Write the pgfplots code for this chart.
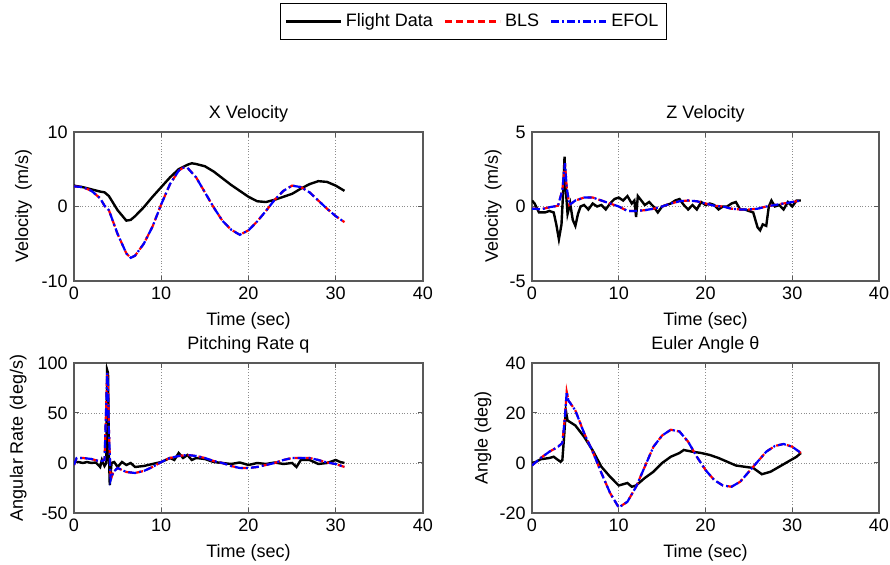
\documentclass[border=0pt]{standalone}
\usepackage{pgfplots}
\pgfplotsset{compat=1.18}
\usepackage{fontspec}
\setmainfont{Liberation Sans}
\begin{document}
\fontsize{9}{10.8}\selectfont
\begin{tikzpicture}
\pgfplotsset{
  myax/.style={scale only axis, anchor=south west,
    xmin=0, xmax=40, xtick={0,10,20,30,40},
    grid=major, major grid style={densely dotted, black!45, line width=0.4pt},
    axis line style={black!65, line width=0.6pt},
    tick style={black!65, line width=0.5pt}, tick align=inside, major tick length=2.5pt,
    xlabel={Time (sec)},
    xlabel style={at={(axis description cs:0.5,0)}, anchor=base, yshift=-22.5pt},
    title style={at={(axis description cs:0.5,1)}, anchor=base, yshift=0.5pt},
    /pgf/number format/assume math mode=true,
    scaled y ticks=false,
    legend image code/.code={\draw[##1] (0pt,0pt) -- (27.5pt,0pt);},
  },
  fd/.style={black, line width=1.2pt},
  bls/.style={red, line width=1.1pt, dash pattern=on 3.5pt off 2pt},
  efol/.style={blue, line width=1.1pt, dash pattern=on 4pt off 1.5pt on 1pt off 1.5pt},
}
% X velocity
\begin{axis}[myax, at={(37pt,142pt)}, width=174.5pt, height=74.5pt,
  ymin=-10, ymax=10, ytick={-10,0,10},
  title={X Velocity}, ylabel={Velocity\ \ (m/s)},
  ylabel style={at={(axis description cs:-0.145,0.5)}, anchor=center},
  legend columns=3,
  legend style={draw=black, line width=0.5pt, at={(axis description cs:1.1447,1.7416)}, anchor=center,
    /tikz/every even column/.append style={column sep=3.5pt}, inner xsep=2pt, inner ysep=3pt},
]
\addplot[fd] coordinates {(0,2.8)(1,2.6)(2,2.3)(3,2.0)(3.5,1.9)(4,1.4)(5,-0.5)(6,-1.9)(6.5,-1.8)(7,-1.3)(8,-0.1)(9,1.3)(10,2.6)(11,3.9)(12,5.0)(13,5.6)(13.5,5.8)(14,5.7)(15,5.4)(16,4.7)(17,3.8)(18,2.9)(19,2.1)(20,1.3)(21,0.7)(22,0.6)(23,0.9)(24,1.3)(25,1.7)(26,2.4)(27,3.0)(28,3.4)(29,3.3)(30,2.8)(31,2.1)};
\addlegendentry{Flight Data}
\addplot[bls] coordinates {(0,2.7)(1,2.6)(2,2.1)(3,1.1)(3.5,0.1)(4,-0.5)(5,-3.7)(6,-6.3)(6.5,-6.9)(7,-6.6)(8,-5.0)(9,-2.7)(10,0.3)(11,3.0)(12,4.8)(12.5,5.2)(13,5.2)(14,3.9)(15,1.9)(16,-0.1)(17,-1.9)(18,-3.1)(19,-3.8)(20,-3.2)(21,-2.0)(22,-0.6)(23,0.9)(24,2.1)(25,2.8)(26,2.6)(27,1.9)(28,0.8)(29,-0.3)(30,-1.3)(31,-2.1)};
\addlegendentry{BLS}
\addplot[efol] coordinates {(0,2.7)(1,2.6)(2,2.1)(3,1.1)(3.5,0.1)(4,-0.5)(5,-3.7)(6,-6.3)(6.5,-6.9)(7,-6.6)(8,-5.0)(9,-2.7)(10,0.3)(11,3.0)(12,4.8)(12.5,5.2)(13,5.2)(14,3.9)(15,1.9)(16,-0.1)(17,-1.9)(18,-3.1)(19,-3.8)(20,-3.2)(21,-2.0)(22,-0.6)(23,0.9)(24,2.1)(25,2.8)(26,2.6)(27,1.9)(28,0.8)(29,-0.3)(30,-1.3)(31,-2.1)};
\addlegendentry{EFOL}
\end{axis}
% Z velocity
\begin{axis}[myax, at={(266pt,142pt)}, width=173.5pt, height=74.5pt,
  ymin=-5, ymax=5, ytick={-5,0,5},
  title={Z Velocity}, ylabel={Velocity\ \ (m/s)},
  ylabel style={at={(axis description cs:-0.112,0.5)}, anchor=center},
]
\addplot[fd] coordinates {(0,0.4)(0.3,0.2)(0.8,-0.4)(1.5,-0.4)(2,-0.3)(2.5,-0.4)(2.8,-1.2)(3.1,-2.2)(3.4,-1.2)(3.6,1.1)(3.75,3.35)(3.9,1.1)(4.1,-0.5)(4.4,0.2)(4.7,-0.9)(5,-1.3)(5.3,-0.5)(5.6,0)(6,0.1)(6.5,-0.2)(7,0.2)(7.5,0)(8,0.1)(8.5,-0.2)(9,0.2)(9.5,0.5)(10,0.6)(10.5,0.4)(11,0.7)(11.5,0.2)(11.8,0.4)(12,-0.7)(12.2,0.7)(12.6,0.4)(13,0.1)(13.5,0.3)(14,0)(14.5,-0.4)(15,0)(15.5,0.1)(16,0.2)(16.5,0.4)(17,0.5)(17.5,0.1)(18,-0.2)(18.5,0.1)(19,-0.2)(19.5,0.3)(20,0.1)(20.5,0.2)(21,0.1)(21.5,-0.2)(22,0)(22.5,0)(23,0.2)(23.5,0.3)(24,-0.2)(24.5,-0.2)(25,-0.3)(25.5,-0.4)(26,-1.4)(26.3,-1.6)(26.6,-1.2)(27,-1.3)(27.3,0)(27.6,0.4)(28,0)(28.5,0.1)(29,-0.2)(29.5,0.3)(30,0)(30.5,0.4)(31,0.4)};
\addplot[bls] coordinates {(0,-0.15)(0.5,-0.15)(1,-0.2)(2,-0.05)(3,0.05)(3.5,1.1)(3.8,2.9)(4,1.3)(4.3,0.1)(5,0.4)(6,0.6)(7,0.6)(8,0.4)(9,0.2)(10,0)(11,-0.3)(12,-0.3)(13,-0.25)(14,-0.15)(15,0)(16,0.2)(17,0.35)(18,0.4)(19,0.35)(20,0.2)(21,0.05)(22,0)(23,-0.15)(24,-0.2)(25,-0.2)(26,-0.15)(27,0)(28,0.1)(29,0.2)(30,0.3)(31,0.4)};
\addplot[efol] coordinates {(0,-0.15)(0.5,-0.15)(1,-0.2)(2,-0.05)(3,0.05)(3.5,1.1)(3.8,2.9)(4,1.3)(4.3,0.1)(5,0.4)(6,0.6)(7,0.6)(8,0.4)(9,0.2)(10,0)(11,-0.3)(12,-0.3)(13,-0.25)(14,-0.15)(15,0)(16,0.2)(17,0.35)(18,0.4)(19,0.35)(20,0.2)(21,0.05)(22,0)(23,-0.15)(24,-0.2)(25,-0.2)(26,-0.15)(27,0)(28,0.1)(29,0.2)(30,0.3)(31,0.4)};
\end{axis}
% Pitching rate
\begin{axis}[myax, at={(37pt,26pt)}, width=174.5pt, height=75pt,
  ymin=-50, ymax=100, ytick={-50,0,50,100},
  title={Pitching Rate q}, ylabel={Angular Rate (deg/s)},
  ylabel style={at={(axis description cs:-0.16,0.5)}, anchor=center},
]
\addplot[fd] coordinates {(0,1)(0.5,1)(1,0)(1.5,1)(2,0)(2.5,0.5)(3,-4)(3.2,3)(3.5,-3)(3.7,0)(3.8,93)(3.9,90)(4.0,10)(4.1,-22)(4.3,0)(4.6,1)(5,-4)(5.5,1)(6,-2)(6.5,0)(7,-4)(8,-3)(9,-1)(10,1)(10.5,3)(11,5)(11.5,3)(12,10)(12.5,5)(13,8)(13.5,3)(14,5)(15,4)(16,1)(17,0)(18,-1)(19,0.5)(20,-2)(21,0)(22,-1)(23,0.5)(24,-1)(25,0)(25.5,-4)(26,3)(27,3)(28,-1)(29,0)(30,3)(30.5,1)(31,0)};
\addplot[bls] coordinates {(0,-2)(0.3,5)(1,5)(2,4)(3,1.5)(3.5,3)(3.7,60)(3.8,90)(3.9,77)(4,33)(4.2,-17)(4.5,-9)(5,-5)(6,-9)(7,-10)(8,-8)(9,-4)(10,1)(11,5)(12,7)(13,8)(14,7)(15,5)(16,2)(17,0)(18,-3)(19,-5)(20,-5)(21,-4)(22,-2)(23,0)(24,3)(25,5)(26,5)(27,5)(28,3)(29,0.5)(30,-1)(31,-4)};
\addplot[efol] coordinates {(0,-2)(0.3,5)(1,5)(2,4)(3,1.5)(3.5,3)(3.7,60)(3.8,90)(3.9,77)(4,33)(4.2,-17)(4.5,-9)(5,-5)(6,-9)(7,-10)(8,-8)(9,-4)(10,1)(11,5)(12,7)(13,8)(14,7)(15,5)(16,2)(17,0)(18,-3)(19,-5)(20,-5)(21,-4)(22,-2)(23,0)(24,3)(25,5)(26,5)(27,5)(28,3)(29,0.5)(30,-1)(31,-4)};
\end{axis}
% Euler angle
\begin{axis}[myax, at={(266pt,26pt)}, width=173.5pt, height=75pt,
  ymin=-20, ymax=40, ytick={-20,0,20,40},
  title={Euler Angle θ}, ylabel={Angle (deg)},
  ylabel style={at={(axis description cs:-0.141,0.5)}, anchor=center},
]
\addplot[fd] coordinates {(0,0)(0.5,0.5)(1,1.5)(2,2)(2.5,2.5)(3,1.2)(3.3,0.5)(3.5,1.2)(3.7,10.5)(3.9,21)(4.1,17)(5,15)(6,10.5)(7,5)(8,-1.5)(9,-5.5)(10,-9)(11,-8)(11.5,-9.5)(12,-9)(13,-6)(14,-3.5)(15,0)(16,2.5)(17,4)(17.5,5.2)(18.5,4.5)(19.5,4)(20.5,3.2)(21.5,2)(22.5,0.5)(23.5,-1)(24.5,-1.5)(25.5,-2)(26.5,-4.5)(27.5,-3.5)(28.5,-1.5)(29.5,0.5)(30.5,2.5)(31,4)};
\addplot[bls] coordinates {(0,-1)(1,2)(2,4.5)(3,6.5)(3.5,8)(3.8,18.5)(4,28.5)(4.2,25)(5,21)(6,12)(7,4.5)(8,-4)(9,-12)(10,-17.8)(11,-15.5)(12,-9.5)(13,-1.5)(14,6.5)(15,11)(16,13.3)(17,12.6)(18,8.5)(19,2.5)(20,-2.8)(21,-6.8)(22,-9)(23,-9.5)(24,-7.5)(25,-3.5)(26,0.5)(27,4.5)(28,6.8)(29,7.6)(30,6.5)(31,4)};
\addplot[efol] coordinates {(0,-1)(1,2)(2,4.5)(3,6.5)(3.5,8)(3.8,18.5)(4,28.5)(4.2,25)(5,21)(6,12)(7,4.5)(8,-4)(9,-12)(10,-17.8)(11,-15.5)(12,-9.5)(13,-1.5)(14,6.5)(15,11)(16,13.3)(17,12.6)(18,8.5)(19,2.5)(20,-2.8)(21,-6.8)(22,-9)(23,-9.5)(24,-7.5)(25,-3.5)(26,0.5)(27,4.5)(28,6.8)(29,7.6)(30,6.5)(31,4)};
\end{axis}
\pgfresetboundingbox
\path (0,0) rectangle (445pt,282.5pt);
\end{tikzpicture}
\end{document}
